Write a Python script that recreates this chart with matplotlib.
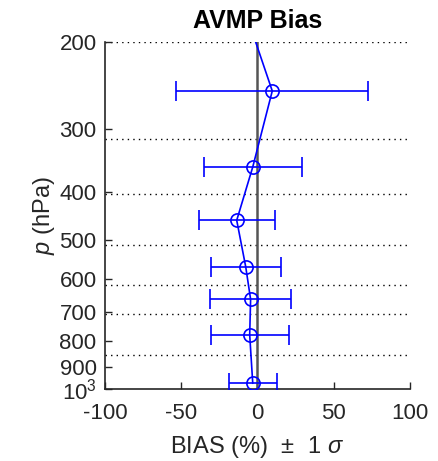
import numpy as np
import matplotlib
matplotlib.use("Agg")
import matplotlib.pyplot as plt
from matplotlib.ticker import FixedLocator, FixedFormatter, NullLocator

plt.rcParams['font.family'] = ['Liberation Sans', 'DejaVu Sans']
plt.rcParams['mathtext.fontset'] = 'custom'
plt.rcParams['mathtext.rm'] = 'Liberation Sans'
plt.rcParams['mathtext.it'] = 'Liberation Sans:italic'

# layer mid pressures (hPa), bias (%) and 1-sigma
pres = [251, 357, 457, 567, 659, 777, 972]
bias = [9.7, -3.1, -13.6, -7.7, -4.5, -5.1, -3.1]
sigma = [63, 32, 25, 23, 26.3, 25.6, 15.6]
# line continues up to the top of the axes
top_pres = 200
top_bias = -1.2

# layer boundaries drawn as dotted lines
bounds = [200, 313, 405, 512, 617, 707, 854]

yticks = [200, 300, 400, 500, 600, 700, 800, 900, 1000]
ylabels = ['200', '300', '400', '500', '600', '700', '800', '900', '$10^3$']
xticks = [-100, -50, 0, 50, 100]

txt = '#262626'

fig = plt.figure(figsize=(4.39, 4.61), dpi=100)
ax = fig.add_axes([0.239, 0.1555, 0.695, 0.7535])

for b in bounds:
    ax.plot([-100, 100], [b, b], color='k', lw=1, linestyle=(0, (1, 3)), zorder=1)

ax.axvline(0, color='#555555', lw=1.8, zorder=2)

ax.plot([top_bias] + bias, [top_pres] + pres, color='#0000ff', lw=1.2, zorder=3)
ax.errorbar(bias, pres, xerr=sigma, fmt='o', color='#0000ff', mfc='none',
            ms=9.5, mew=1.2, elinewidth=1.2, capsize=7, capthick=1.2, zorder=4)

ax.set_yscale('log')
ax.set_ylim(1000, 200)
ax.set_xlim(-100, 100)
ax.yaxis.set_major_locator(FixedLocator(yticks))
ax.yaxis.set_major_formatter(FixedFormatter(ylabels))
ax.yaxis.set_minor_locator(NullLocator())
ax.set_xticks(xticks)
ax.set_xticklabels([str(v) for v in xticks])

ax.spines['top'].set_visible(False)
ax.spines['right'].set_visible(False)
for s in ['left', 'bottom']:
    ax.spines[s].set_color(txt)
    ax.spines[s].set_linewidth(1.2)
ax.tick_params(direction='in', length=5, width=1, colors=txt, labelsize=16,
               labelcolor=txt)
ax.tick_params(axis='x', pad=10)
ax.tick_params(axis='y', pad=6)

ax.set_title('AVMP Bias', fontsize=18, fontweight='bold', color='k', pad=10)
ax.set_xlabel(r'BIAS (%) $\,\pm\,$ 1 $\sigma$', fontsize=17, color=txt, labelpad=7)
ax.set_ylabel(r'$p$ (hPa)', fontsize=17, color=txt, labelpad=2)

fig.savefig('out.png', dpi=100)
